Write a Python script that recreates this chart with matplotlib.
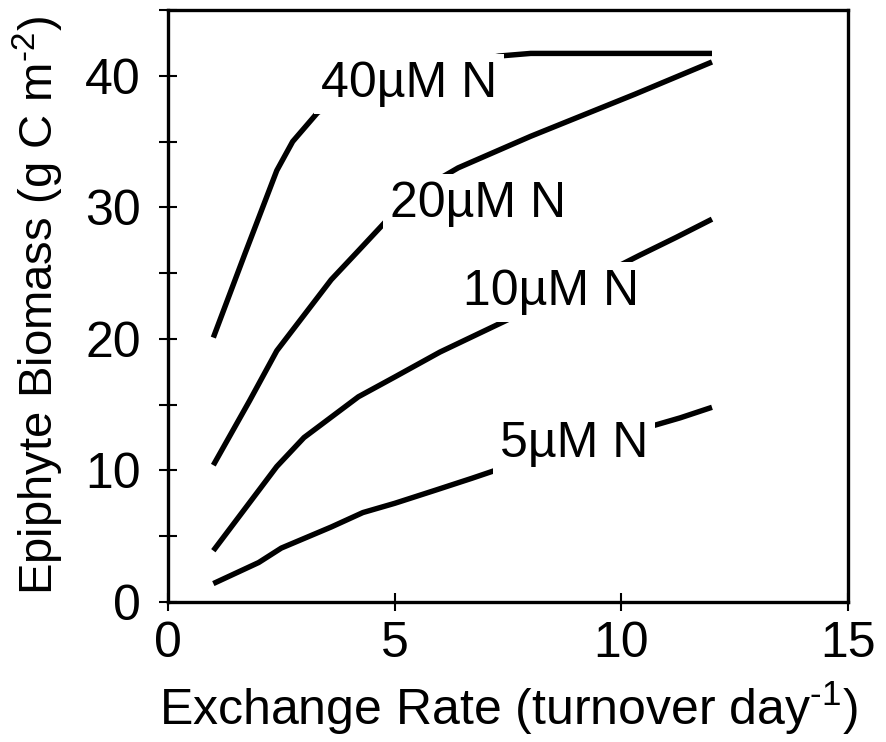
import matplotlib
matplotlib.use("Agg")
import matplotlib.pyplot as plt
from matplotlib.ticker import MultipleLocator

plt.rcParams['font.family'] = ['Liberation Sans', 'DejaVu Sans']
plt.rcParams['mathtext.fontset'] = 'custom'
plt.rcParams['mathtext.rm'] = 'Liberation Sans'
plt.rcParams['mathtext.default'] = 'regular'

# Data
x5 = [1, 2.0, 2.5, 3.6, 4.3, 5.0, 5.9, 6.7, 7.3, 8.0, 9.0, 10.0, 10.6, 11.3, 12]
y5 = [1.4, 3.0, 4.1, 5.7, 6.8, 7.5, 8.5, 9.4, 10.1, 10.9, 11.9, 12.8, 13.3, 14.0, 14.8]

x10 = [1, 2.4, 3.0, 4.2, 5.0, 6.0, 7.4, 8.0, 9.0, 10.4, 11.2, 12]
y10 = [3.9, 10.3, 12.5, 15.6, 17.1, 19.0, 21.3, 22.3, 23.9, 26.35, 27.7, 29.1]

x20 = [1, 1.8, 2.4, 3.0, 3.6, 4.2, 4.85, 5.5, 6.4, 8.0, 10.3, 12]
y20 = [10.4, 15.3, 19.1, 21.8, 24.5, 26.7, 29.1, 31.2, 33.0, 35.4, 38.6, 41.05]

x40 = [1, 1.7, 2.4, 2.75, 3.3, 4.0, 5.0, 6.0, 7.3, 8.0, 10.0, 12]
y40 = [20.1, 26.5, 32.8, 35.0, 37.2, 38.6, 39.8, 40.6, 41.5, 41.7, 41.7, 41.7]

labels = ['5µM N', '10µM N', '20µM N', '40µM N']
label_x = [7.32, 6.51, 4.9, 3.375]
label_y = [11.04, 22.6, 29.3, 38.4]

xticks = [0, 5, 10, 15]
yticks = [0, 10, 20, 30, 40]

fig = plt.figure(figsize=(8.86, 7.42), dpi=100)
ax = fig.add_axes([168/886, 1-602/742, (848-168)/886, (602-10)/742])

for xs, ys in [(x5, y5), (x10, y10), (x20, y20), (x40, y40)]:
    ax.plot(xs, ys, color='black', lw=3.9, solid_capstyle='butt', zorder=2)

for lab, lx, ly in zip(labels, label_x, label_y):
    ax.text(lx, ly, lab, fontsize=36, ha='left', va='baseline', zorder=3,
            bbox=dict(facecolor='white', edgecolor='none', pad=5))

ax.set_xlim(0, 15)
ax.set_ylim(0, 45)
ax.set_xticks(xticks)
ax.set_yticks(yticks)
ax.yaxis.set_minor_locator(MultipleLocator(5))

for s in ax.spines.values():
    s.set_linewidth(2.4)

ax.tick_params(axis='both', which='both', direction='inout', length=13, width=1.5,
               labelsize=36, top=False, right=False)
ax.tick_params(axis='x', pad=7)
ax.tick_params(axis='y', pad=13)

ax.set_xlabel(r'Exchange Rate (turnover day$^{\text{-1}}$)', fontsize=36, labelpad=9)
ax.set_ylabel(r'Epiphyte Biomass (g C m$^{\text{-2}}$)', fontsize=34, labelpad=14)

fig.savefig('out.png', dpi=100)
